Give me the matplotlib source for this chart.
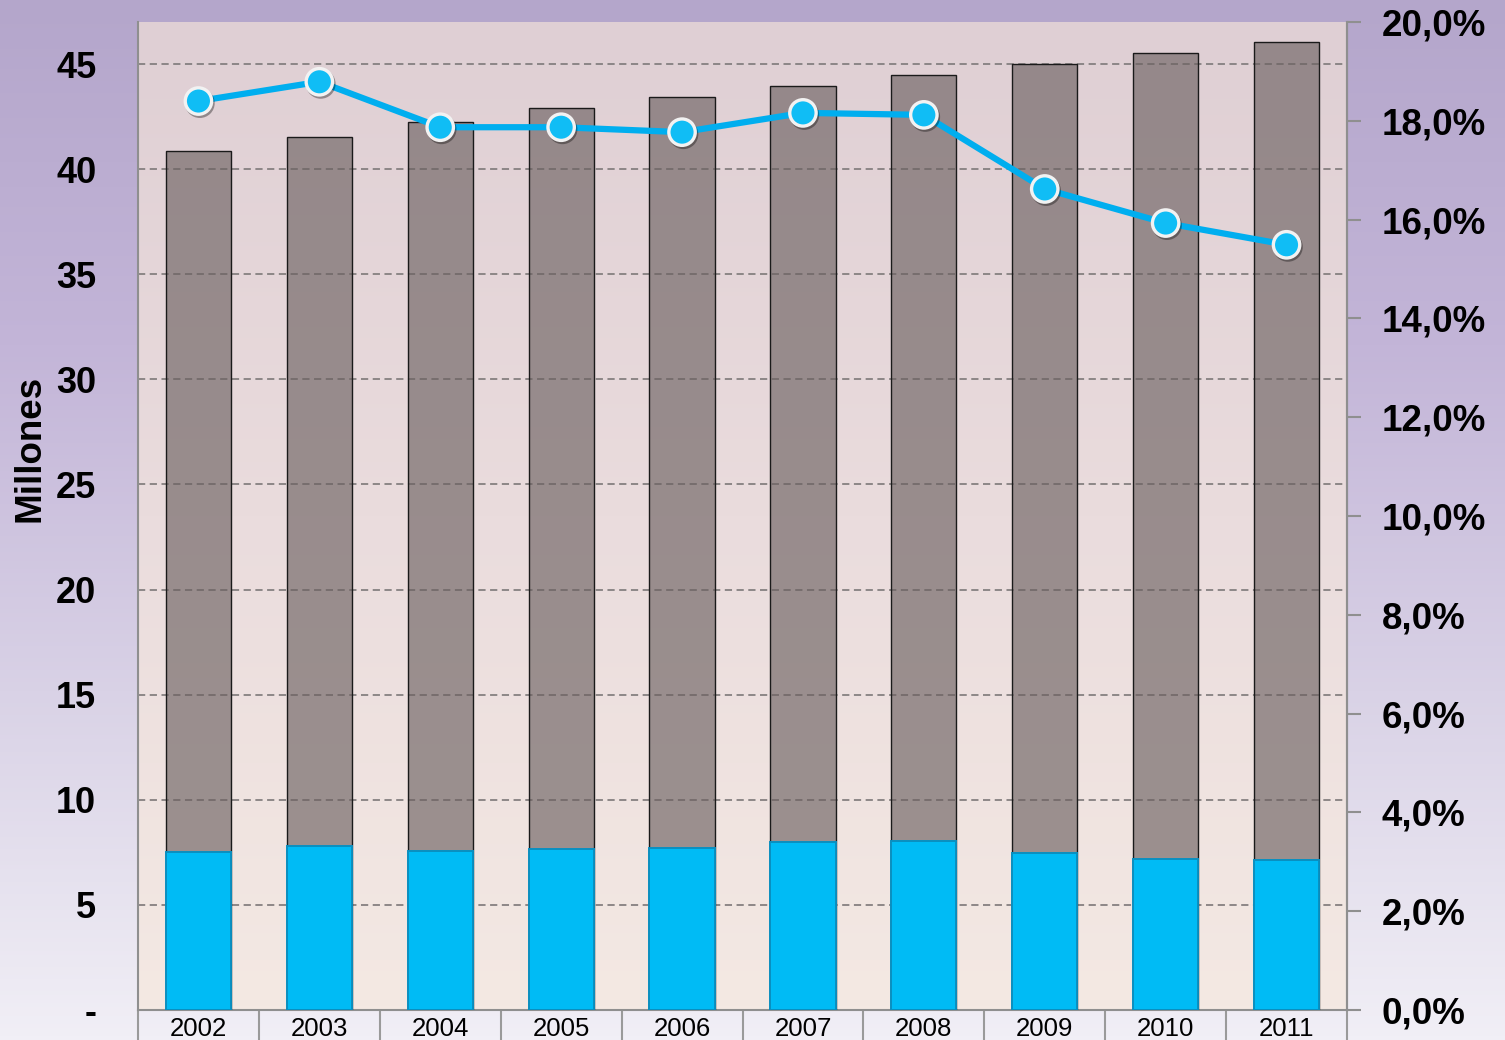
import numpy as np
import matplotlib
matplotlib.use("Agg")
import matplotlib.pyplot as plt
from matplotlib.colors import LinearSegmentedColormap
from matplotlib.ticker import FixedLocator, FuncFormatter
import matplotlib.patheffects as pe

plt.rcParams['font.family'] = ['Liberation Sans', 'DejaVu Sans']

years = ['2002', '2003', '2004', '2005', '2006', '2007', '2008', '2009', '2010', '2011']
total_millones = [40.87, 41.53, 42.24, 42.91, 43.43, 43.96, 44.48, 45.00, 45.53, 46.05]
azul_millones = [7.52, 7.80, 7.56, 7.66, 7.71, 7.99, 8.04, 7.47, 7.18, 7.14]
porcentaje = [0.1840, 0.1879, 0.1787, 0.1787, 0.1777, 0.1816, 0.1812, 0.1662, 0.1593, 0.1549]
left_ticks = [0, 5, 10, 15, 20, 25, 30, 35, 40, 45]
right_ticks = [0.0, 0.02, 0.04, 0.06, 0.08, 0.10, 0.12, 0.14, 0.16, 0.18, 0.20]

W, H = 1505, 1040
fig = plt.figure(figsize=(W / 100, H / 100), dpi=100)

# figure background gradient
bg = fig.add_axes([0, 0, 1, 1], zorder=-10)
cmap_bg = LinearSegmentedColormap.from_list('bg', ['#B4A6CB', '#C3B5D8', '#D9D2E6', '#F1EFF6'])
grad = np.linspace(0, 1, 256).reshape(-1, 1)
bg.imshow(grad, aspect='auto', cmap=cmap_bg, extent=[0, 1, 0, 1], origin='upper')
bg.set_axis_off()

left, right, bottom, top = 138 / W, 1347 / W, 1 - 1010 / H, 1 - 22 / H
ax = fig.add_axes([left, bottom, right - left, top - bottom])
ax.patch.set_visible(False)

cmap_pa = LinearSegmentedColormap.from_list('pa', ['#DFCFD4', '#EADCDD', '#F4E9E3'])
ax.imshow(grad, aspect='auto', cmap=cmap_pa, extent=[0, 1, 0, 1],
          transform=ax.transAxes, origin='upper', zorder=0)

x = np.arange(len(years))
bw = 0.54

ax.set_ylim(0, 47)
ax.set_xlim(-0.5, len(years) - 0.5)

ax.yaxis.set_major_locator(FixedLocator(left_ticks))
ax.yaxis.set_major_formatter(FuncFormatter(lambda v, p: '-' if v == 0 else f'{int(v)}'))
for t in left_ticks[1:]:
    ax.axhline(t, color='#858080', lw=1.3, ls=(0, (4, 2.5)), zorder=1)

ax.bar(x, total_millones, width=bw, color='#6b6060', alpha=0.64,
       edgecolor='none', zorder=2)
ax.bar(x, total_millones, width=bw, facecolor='none',
       edgecolor='#1a1a1a', linewidth=1.0, zorder=3)
ax.bar(x, azul_millones, width=bw, color='#00BBF5', edgecolor='#0a8fc0',
       linewidth=1.4, zorder=4)

ax.set_xticks(x)
ax.set_xticklabels(years, fontsize=18.5)
ax.set_xticks(np.arange(-0.5, len(years), 1), minor=True)
ax.tick_params(axis='x', which='major', length=0, pad=5)
ax.tick_params(axis='x', which='minor', length=30, width=1.5, color='#9a9a9a', direction='out')
ax.tick_params(axis='y', length=0, pad=30, labelsize=26)
for lab in ax.get_yticklabels():
    lab.set_fontweight('bold')

for s in ['top']:
    ax.spines[s].set_visible(False)
for s in ['left', 'bottom', 'right']:
    ax.spines[s].set_color('#8f8f8f')
    ax.spines[s].set_linewidth(1.5)

ax2 = ax.twinx()
ax2.set_ylim(0, 0.20)
ax2.yaxis.set_major_locator(FixedLocator(right_ticks))
ax2.yaxis.set_major_formatter(FuncFormatter(lambda v, p: f'{v * 100:.1f}%'.replace('.', ',')))
ax2.tick_params(axis='y', length=10, width=1.5, color='#8f8f8f', pad=15, labelsize=26.5)
for lab in ax2.get_yticklabels():
    lab.set_fontweight('bold')
for s in ['top', 'left', 'bottom']:
    ax2.spines[s].set_visible(False)
ax2.spines['right'].set_color('#8f8f8f')
ax2.spines['right'].set_linewidth(1.5)

ax2.plot(x, porcentaje, color='#00AEEF', lw=4.5, zorder=5, solid_capstyle='round')
ax2.plot(x, porcentaje, ls='none', marker='o', ms=19, mfc='#10BDF5', mec='#F2F2F2',
         mew=2.4, zorder=6,
         path_effects=[pe.SimpleLineShadow(offset=(1, -1.5), alpha=0.35), pe.Normal()])

fig.text(30 / W, 1 - 448 / H, 'Millones', rotation=90, ha='center', va='center',
         fontsize=26.5, fontweight='bold')

fig.savefig('out.png', dpi=100)
